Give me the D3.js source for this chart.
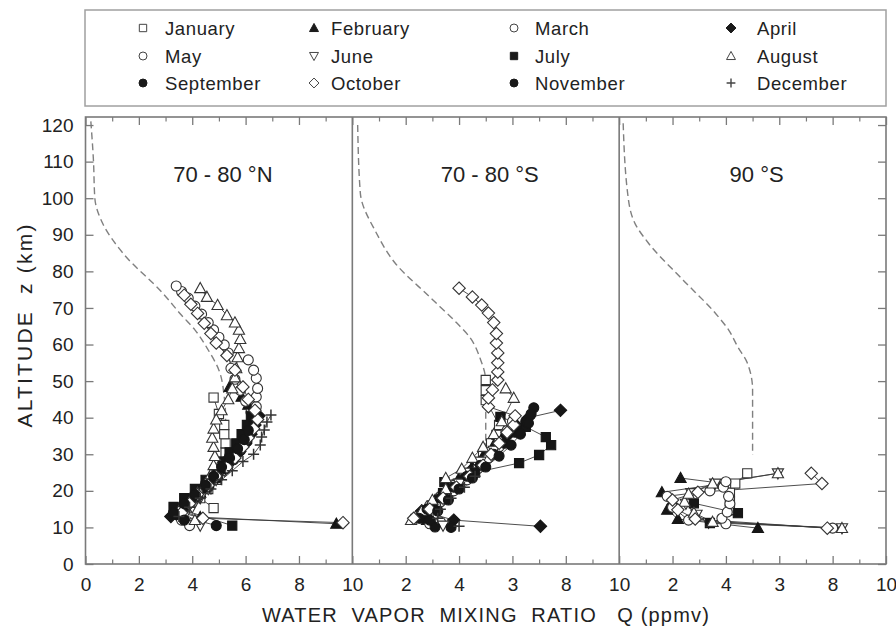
<!DOCTYPE html>
<html><head><meta charset="utf-8">
<script src="https://cdn.jsdelivr.net/npm/d3@7"></script>
<style>
body{margin:0;background:#fff;}
text{font-family:"Liberation Sans",Arial,Helvetica,sans-serif;fill:#222;}
</style>
</head><body>
<svg id="c" width="896" height="631"></svg>
<script>
// ---------------- DATA ----------------
const months = ["January","February","March","April","May","June","July","August","September","October","November","December"];
const panelTitles = ["70 - 80 \u00B0N","70 - 80 \u00B0S","90 \u00B0S"];
const xTickLabels1 = ["0","2","4","6","8","10"];
const xTickLabels2 = ["","2","4","3","8","10"];
const xTickLabels3 = ["","2","4","3","8","10"];
const yTicks = [0,10,20,30,40,50,60,70,80,90,100,110,120];

// model curves [Q, z]
const modelN  = [[0.2,121],[0.3,110],[0.35,100],[0.65,93],[1.4,85],[2.9,74],[3.6,68],[4.1,64],[4.6,58.5],[5.0,53],[5.2,45.7],[5.25,40],[5.25,30]];
const modelS  = [[0.2,120],[0.3,101.4],[0.9,90.5],[1.6,82.3],[2.9,73],[3.9,66],[4.4,62],[4.8,56],[5.0,50],[5.0,30.3]];
const modelSP = [[0.15,120.5],[0.35,99.5],[0.6,93],[1.1,87.7],[2.4,77.6],[3.6,68.6],[4.1,64],[4.45,59.3],[4.8,55],[5.0,47.6],[5.0,29.8]];

// 70-80 N profiles [Q, z]
const north_jan = [[4.8,15.3],[4.3,18],[4.6,20.5],[4.9,23],[5.1,25.5],[5.2,28],[5.25,30.5],[5.25,33],[5.2,35.5],[5.2,38],[5.0,41],[4.8,45.5]];
const north_feb = [[9.4,11],[4.3,12.8],[3.6,14.5],[3.9,17],[4.3,19.5],[4.6,22],[4.9,24.5],[5.2,27],[5.5,29.5],[5.8,32],[6.0,35],[6.2,38],[6.3,40.5],[6.1,43.5],[5.85,45.7],[5.4,48.4]];
const north_mar = [[3.9,10.5],[3.5,13.2],[3.8,15.7],[4.1,18.2],[4.4,20.7],[4.7,23.2],[5.0,25.7],[5.3,28.2],[5.6,30.7],[5.9,33.2],[6.1,35.7],[6.2,38.5],[6.2,41.5],[6.0,44.5],[5.8,47.5],[5.6,50.5],[5.45,53.5],[5.35,57.7],[5.2,59.9],[5.0,62],[4.8,64],[4.6,66],[4.35,68.3],[4.1,70.5],[3.85,72.7],[3.6,74.5],[3.4,76]];
const north_apr = [[3.2,13],[3.6,15.5],[4.0,18],[4.4,20.5],[4.75,23],[5.1,25.5],[5.45,28],[5.75,30.5],[6.0,33],[6.2,35.5],[6.35,38],[6.5,40.5],[6.3,42.5]];
const north_may = [[3.6,12],[3.4,14.5],[3.8,17],[4.2,19.5],[4.5,22],[4.8,24.5],[5.1,27],[5.4,29.5],[5.7,32],[5.9,34.5],[6.1,37],[6.3,40],[6.4,43],[6.4,45.7],[6.45,48],[6.4,50.8],[6.3,53],[6.1,55.8]];
const north_jun = [[4.3,10.5],[3.7,13],[4.0,15.5],[4.3,18],[4.6,20.5],[4.9,23],[5.2,25.5],[5.4,28],[5.6,30.5]];
const north_jul = [[5.5,10.5],[3.3,15.6],[3.7,18],[4.1,20.5],[4.5,23],[4.85,25.5],[5.15,28],[5.4,30.5],[5.65,33],[5.85,35.5],[6.05,38],[6.2,40.5]];
const north_aug = [[4.1,12],[3.5,14.5],[3.9,17],[4.2,19.5],[4.5,22],[4.7,24.5],[4.8,27],[4.85,29.5],[4.8,32],[4.75,34.5],[4.8,37],[4.9,39.5],[5.1,42],[5.35,45],[5.5,48],[5.6,51],[5.65,53.5],[5.7,56.5],[5.75,59],[5.8,61.5],[5.75,64],[5.6,66],[5.3,68],[4.95,70.8],[4.55,73],[4.3,75.4]];
const north_sep = [[4.9,10.5],[3.4,13.5],[3.8,16],[4.2,18.5],[4.6,21],[4.95,23.5],[5.25,26],[5.55,28.5],[5.8,31],[6.05,33.5],[6.2,36],[6.3,38.5]];
const north_oct = [[9.65,11.3],[4.4,12.5],[3.6,14],[3.9,16.5],[4.2,19],[4.6,21.5],[4.9,24],[5.3,26.5],[5.6,29],[5.9,32],[6.1,34.5],[6.3,37],[6.45,39.5],[6.35,42],[6.1,45],[5.9,48.4],[5.6,53],[5.3,57],[4.9,60.4],[4.7,63],[4.45,65.8],[4.2,68.5],[3.95,71],[3.7,73.5]];
const north_nov = [[3.7,12],[3.3,14],[3.7,16.5],[4.1,19],[4.5,21.5],[4.8,24],[5.1,26.5],[5.4,29],[5.7,31.5],[5.95,34],[6.1,36.5]];
const north_dec = [[3.5,13],[3.9,15.5],[4.3,18],[4.7,20.5],[5.1,23],[5.5,25.5],[5.9,28],[6.3,30],[6.55,32.5],[6.6,34.7],[6.7,36.6],[6.8,38.8],[6.95,40.7]];

// 70-80 S profiles
const south_jan = [[3.0,11],[2.6,13.5],[3.0,16],[3.4,18.8],[3.9,21.5],[4.3,24],[4.6,27],[4.9,30],[5.2,33],[5.4,35.3],[5.5,38],[5.0,44.8],[5.0,47.5],[5.0,50.3]];
const south_feb = [[2.8,12],[2.6,14.5],[3.1,17.5],[3.6,20.5],[4.0,23.5],[4.5,26.5],[4.9,29.5],[5.3,32.5],[5.7,35.5],[6.1,38.5]];
const south_mar = [[2.9,11],[2.5,13.5],[2.9,16],[3.3,18.5],[3.8,21.5],[4.2,24.5],[4.7,27.5],[5.1,30.5],[5.5,33.5],[5.8,36.5],[6.0,39]];
const south_apr = [[7.05,10.3],[3.8,12],[2.6,14.5],[3.1,17],[3.6,20],[4.1,23],[4.5,26],[4.95,29],[5.4,32],[5.8,35],[6.2,37.5],[6.6,40],[7.8,42]];
const south_may = [[3.3,11.5],[2.8,14],[3.3,17],[3.8,20],[4.3,23],[4.7,26],[5.1,29],[5.5,32]];
const south_jun = [[3.4,10.5],[2.6,13],[3.0,16],[3.5,19],[4.0,22],[4.4,25],[4.8,28],[5.3,31]];
const south_jul = [[2.7,12.5],[3.0,15.5],[3.4,19.4],[3.45,22.4],[4.6,25],[6.25,27.6],[7.0,29.8],[7.45,32.5],[7.25,34.7],[6.5,37.5],[5.55,40.2]];
const south_aug = [[2.2,12],[2.6,14.5],[3.0,17.5],[3.5,20.5],[3.5,23.5],[4.1,26],[4.5,29],[4.9,32],[5.3,35.5],[5.6,39],[6.05,45.4],[5.75,48]];
const south_sep = [[3.1,10.1],[2.5,12.5],[2.8,15],[3.3,18],[3.8,21],[4.3,24],[4.8,27],[5.3,30],[5.7,33],[6.1,36],[6.5,39],[6.8,42.7]];
const south_oct = [[2.3,12.5],[2.9,15],[3.4,18],[3.9,21],[4.4,24],[4.9,27],[5.2,30],[5.5,33],[5.8,36],[6.05,38],[6.1,40.5],[5.1,43],[5.1,45.4],[5.25,47.6],[5.45,50.3],[5.45,52.5],[5.45,55],[5.45,57.7],[5.4,60.4],[5.4,63],[5.3,66],[5.1,68.6],[4.85,70.8],[4.5,73],[4.0,75.4]];
const south_nov = [[3.7,10],[2.9,12],[3.2,14.5],[3.6,17.5],[4.0,20.5],[4.5,23.5],[5.0,26.5],[5.5,29.5],[5.95,32.5],[6.3,35.5],[6.6,38.5],[6.7,41]];
const south_dec = [[4.0,10.3],[3.2,12.5],[3.3,15],[3.7,18],[4.2,21],[4.6,24]];

// 90 S profiles
const pole_jan = [[4.15,14.8],[4.15,17.2],[4.15,19.5],[4.35,22],[4.8,24.8]];
const pole_feb = [[5.2,9.8],[2.2,12.3],[1.8,14.8],[2.0,17.3],[1.6,19.6],[3.9,22],[2.3,23.5]];
const pole_mar = [[4.0,11],[3.85,12.5],[4.05,14.2],[4.15,16.5],[4.1,18.5],[3.9,21]];
const pole_apr = [];
const pole_may = [[8.0,9.8],[2.6,12],[2.0,15.5],[1.8,18.5],[3.4,20],[4.0,22.5]];
const pole_jun = [[8.35,9.8],[3.35,11.3],[2.9,13.5],[2.5,16.5],[2.7,19.4],[3.6,22],[5.95,24.8]];
const pole_jul = [[3.4,11.2],[4.45,13.9],[2.8,16.6]];
const pole_aug = [[8.35,9.8],[3.5,11.5],[2.8,14],[2.45,17],[2.6,19.2],[3.5,22],[5.95,24.8]];
const pole_sep = [];
const pole_oct = [[7.8,9.8],[2.85,12.3],[2.2,14.8],[2.0,17.5],[2.95,19.6],[7.6,22],[7.2,24.8]];
const pole_nov = [];
const pole_dec = [];

// ---------------- STYLE ----------------
const monthShape  = ["square","triUp","circle","diamond","circle","triDown","square","triUp","circle","diamond","circle","plus"];
const monthFilled = [false,true,false,true,false,false,true,false,true,false,true,false];

const panels = [
  {title: panelTitles[0], labels: xTickLabels1, model: modelN,
   series: [north_jan,north_feb,north_mar,north_apr,north_may,north_jun,north_jul,north_aug,north_sep,north_oct,north_nov,north_dec]},
  {title: panelTitles[1], labels: xTickLabels2, model: modelS,
   series: [south_jan,south_feb,south_mar,south_apr,south_may,south_jun,south_jul,south_aug,south_sep,south_oct,south_nov,south_dec]},
  {title: panelTitles[2], labels: xTickLabels3, model: modelSP,
   series: [pole_jan,pole_feb,pole_mar,pole_apr,pole_may,pole_jun,pole_jul,pole_aug,pole_sep,pole_oct,pole_nov,pole_dec]}
];

// ---------------- LAYOUT ----------------
const svg = d3.select("#c");
const plotL = 85.5, plotR = 886, plotT = 117, plotB = 564;
const panelW = (plotR - plotL) / 3;
const axisColor = "#7a7a7a";
const y = d3.scaleLinear().domain([0, 122.2]).range([plotB, plotT]);
const xs = [0,1,2].map(i => d3.scaleLinear().domain([0,10]).range([plotL + i*panelW, plotL + (i+1)*panelW]));

function shapePath(shape, k) {
  k = k || 1;
  if (shape === "square") { const r = 4.6*k; return `M${-r},${-r}H${r}V${r}H${-r}Z`; }
  if (shape === "circle") { const r = 5*k; return `M${r},0A${r},${r} 0 1,1 ${-r},0A${r},${r} 0 1,1 ${r},0Z`; }
  if (shape === "triUp") { const w = 5.6*k, h = 5.2*k; return `M0,${-h*1.1}L${w},${h*0.85}L${-w},${h*0.85}Z`; }
  if (shape === "triDown") { const w = 5.6*k, h = 5.2*k; return `M0,${h*1.1}L${w},${-h*0.85}L${-w},${-h*0.85}Z`; }
  if (shape === "diamond") { const r = 6.2*k; return `M0,${-r}L${r},0L0,${r}L${-r},0Z`; }
  if (shape === "plus") { const r = 5.5*k; return `M${-r},0H${r}M0,${-r}V${r}`; }
}

// legend
svg.append("rect").attr("x", 85).attr("y", 10).attr("width", 801).attr("height", 96)
  .attr("fill", "none").attr("stroke", "#a0a0a0").attr("stroke-width", 1.5);
const legMarkX = [143, 314, 514, 731];
const legTextX = [165, 331, 535, 757];
const legRowY = [28, 56, 83];
months.forEach((m, i) => {
  const col = i % 4, row = Math.floor(i / 4);
  const g = svg.append("g").attr("transform", `translate(${legMarkX[col]},${legRowY[row]})`);
  g.append("path").attr("d", shapePath(monthShape[i], 0.8))
    .attr("fill", monthShape[i] === "plus" ? "none" : (monthFilled[i] ? "#1a1a1a" : "#fff"))
    .attr("stroke", monthFilled[i] ? "#1a1a1a" : "#444")
    .attr("stroke-width", monthShape[i] === "plus" ? 1.4 : 1);
  svg.append("text").attr("x", legTextX[col]).attr("y", legRowY[row]).attr("dy", "0.36em")
    .attr("font-size", 18.5).attr("letter-spacing", 0.6).text(m);
});

// panels
panels.forEach((p, pi) => {
  const x = xs[pi];
  const g = svg.append("g");

  g.append("path").datum(p.model)
    .attr("d", d3.line().x(d => x(d[0])).y(d => y(d[1])).curve(d3.curveMonotoneY))
    .attr("fill", "none").attr("stroke", "#808080").attr("stroke-width", 1.4)
    .attr("stroke-dasharray", "7,4");

  p.series.forEach((s) => {
    if (s.length < 2) return;
    g.append("path").datum(s)
      .attr("d", d3.line().x(d => x(d[0])).y(d => y(d[1])))
      .attr("fill", "none").attr("stroke", "#3a3a3a").attr("stroke-width", 0.9);
  });
  p.series.forEach((s, mi) => {
    g.selectAll(null).data(s).enter().append("path")
      .attr("transform", d => `translate(${x(d[0])},${y(d[1])})`)
      .attr("d", shapePath(monthShape[mi], 1))
      .attr("fill", monthShape[mi] === "plus" ? "none" : (monthFilled[mi] ? "#161616" : "#fff"))
      .attr("stroke", monthFilled[mi] ? "#161616" : "#333")
      .attr("stroke-width", monthShape[mi] === "plus" ? 1.5 : 1.1);
  });

  const allMajor = [0,2,4,6,8,10];
  const majorVals = allMajor.filter(v => pi === 0 || v !== 0);
  const bMaj = d3.axisBottom(x).tickValues(majorVals).tickSize(-8).tickPadding(14)
    .tickFormat(v => p.labels[allMajor.indexOf(v)]);
  const gb = svg.append("g").attr("transform", `translate(0,${plotB})`).call(bMaj);
  gb.select(".domain").remove();
  gb.selectAll("line").attr("stroke", axisColor).attr("stroke-width", 1.3);
  gb.selectAll("text").attr("font-size", 19).attr("font-family", "Liberation Sans, Arial, sans-serif").attr("fill", "#222");
  const bMin = d3.axisBottom(x).tickValues([1,3,5,7,9]).tickSize(-4.5).tickFormat("");
  const gbm = svg.append("g").attr("transform", `translate(0,${plotB})`).call(bMin);
  gbm.select(".domain").remove();
  gbm.selectAll("line").attr("stroke", axisColor).attr("stroke-width", 1.2);

  const tMaj = d3.axisTop(x).tickValues(majorVals).tickSize(-8).tickFormat("");
  const gt = svg.append("g").attr("transform", `translate(0,${plotT})`).call(tMaj);
  gt.select(".domain").remove();
  gt.selectAll("line").attr("stroke", axisColor).attr("stroke-width", 1.3);
  const tMin = d3.axisTop(x).tickValues([1,3,5,7,9]).tickSize(-4.5).tickFormat("");
  const gtm = svg.append("g").attr("transform", `translate(0,${plotT})`).call(tMin);
  gtm.select(".domain").remove();
  gtm.selectAll("line").attr("stroke", axisColor).attr("stroke-width", 1.2);

  svg.append("text").attr("x", (x.range()[0] + x.range()[1]) / 2 + 4).attr("y", 182)
    .attr("text-anchor", "middle").attr("font-size", 22).text(p.title);
});

const yl = d3.axisLeft(y).tickValues(yTicks).tickSize(-8).tickPadding(12);
const gyl = svg.append("g").attr("transform", `translate(${plotL},0)`).call(yl);
gyl.select(".domain").remove();
gyl.selectAll("line").attr("stroke", axisColor).attr("stroke-width", 1.3);
gyl.selectAll("text").attr("font-size", 19).attr("font-family", "Liberation Sans, Arial, sans-serif").attr("fill", "#222");
const yr = d3.axisRight(y).tickValues(yTicks).tickSize(-8).tickFormat("");
const gyr = svg.append("g").attr("transform", `translate(${plotR},0)`).call(yr);
gyr.select(".domain").remove();
gyr.selectAll("line").attr("stroke", axisColor).attr("stroke-width", 1.3);

svg.append("rect").attr("x", plotL).attr("y", plotT).attr("width", plotR - plotL).attr("height", plotB - plotT)
  .attr("fill", "none").attr("stroke", axisColor).attr("stroke-width", 1.6);
[1,2].forEach(i => {
  svg.append("line").attr("x1", xs[i](0)).attr("x2", xs[i](0)).attr("y1", plotT).attr("y2", plotB)
    .attr("stroke", axisColor).attr("stroke-width", 1.6);
});

svg.append("text").attr("x", 486).attr("y", 622).attr("text-anchor", "middle")
  .attr("font-size", 20).attr("letter-spacing", 1.2).style("white-space", "pre")
  .text("WATER  VAPOR  MIXING  RATIO   Q (ppmv)");
svg.append("text").attr("transform", "translate(32,325) rotate(-90)").attr("text-anchor", "middle")
  .attr("font-size", 21).attr("letter-spacing", 2.2).style("white-space", "pre")
  .text("ALTITUDE  z (km)");
</script>
</body></html>
